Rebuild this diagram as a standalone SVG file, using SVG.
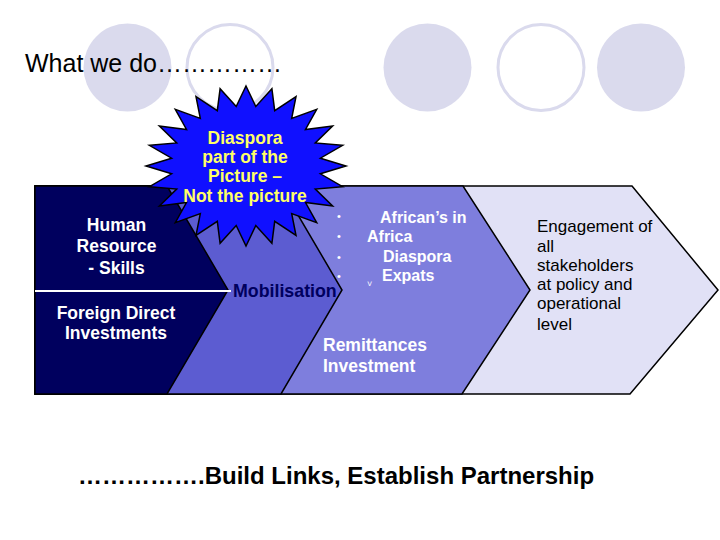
<svg xmlns="http://www.w3.org/2000/svg" width="720" height="540" viewBox="0 0 720 540">
<defs>
<style>
.dot{fill:#dadaed}
.ring{fill:#ffffff;stroke:#dadaed;stroke-width:3}
.shape{stroke:#000000;stroke-width:1.5;stroke-linejoin:miter}
.t{font-family:"Liberation Sans",Arial,sans-serif}
.wb{fill:#ffffff;font-weight:bold;font-size:17.5px}
.wb16{fill:#ffffff;font-weight:bold;font-size:16px}
.blk{fill:#000000;font-size:17px}
.yel{fill:#ffff66;font-weight:bold;font-size:17.5px}
</style>
</defs>
<rect width="720" height="540" fill="#ffffff"/>
<g id="decor">
<circle class="dot" cx="127.5" cy="67.5" r="44"/>
<circle class="ring" cx="230" cy="67.5" r="43"/>
<circle class="dot" cx="427.5" cy="67.5" r="44"/>
<circle class="ring" cx="541" cy="67.5" r="43"/>
<circle class="dot" cx="641" cy="67.5" r="44"/>
</g>
<g id="title">
<text class="t" x="25" y="72" font-size="25" fill="#000000">What we do……………</text>
</g>
<g id="engagement">
<path class="shape" d="M35,186 L632,186 L718,290 L630,394 L35,394 Z" fill="#e1e1f6"/>
<text class="t blk" x="537"><tspan x="537" y="232">Engagement of</tspan><tspan x="537" y="252">all</tspan><tspan x="537" y="271">stakeholders</tspan><tspan x="537" y="290">at policy and</tspan><tspan x="537" y="309">operational</tspan><tspan x="537" y="330">level</tspan></text>
</g>
<g id="remittances">
<path class="shape" d="M35,186 L463,186 L530,290 L462,394 L35,394 Z" fill="#7e7edd"/>
<g class="t" fill="#ffffff" font-size="11">
<text x="337" y="220">•</text>
<text x="337" y="240">•</text>
<text x="337" y="261">•</text>
<text x="337" y="280">•</text>
</g>
<text class="t wb16" x="380" y="223">African’s in</text>
<text class="t wb16" x="367" y="242">Africa</text>
<text class="t wb16" x="383" y="262">Diaspora</text>
<text class="t wb16" x="382" y="281">Expats</text>
<text class="t" x="367" y="287" font-size="9" fill="#ffffff">˅</text>
<text class="t wb"><tspan x="323" y="351">Remittances</tspan><tspan x="323" y="372">Investment</tspan></text>
</g>
<g id="mobilisation">
<path class="shape" d="M35,186 L281,186 L342,290 L281,394 L35,394 Z" fill="#5c5cd1"/>
</g>
<g id="skills">
<path class="shape" d="M35,186 L167,186 L228,290 L167,394 L35,394 Z" fill="#00005e"/>
<line x1="35" y1="291" x2="231" y2="291" stroke="#ffffff" stroke-width="2"/>
<text class="t wb" text-anchor="middle"><tspan x="116.5" y="231">Human</tspan><tspan x="116.5" y="252">Resource</tspan><tspan x="116.5" y="274">- Skills</tspan></text>
<text class="t wb" text-anchor="middle"><tspan x="116" y="319">Foreign Direct</tspan><tspan x="116" y="339">Investments</tspan></text>
</g>
<g id="mobilisation-label">
<text class="t" x="233" y="297" font-size="17.8" font-weight="bold" fill="#00005e">Mobilisation</text>
</g>
<g id="star">
<polygon fill="#1010ff" stroke="#000000" stroke-width="1.5" stroke-linejoin="miter" points="246,86 255.8,106.5 271.9,88.7 274.7,110.6 296,96.7 291.7,118.4 316.7,109.4 305.5,129.5 332.6,126 315.3,143 342.6,145.3 320.4,158.2 346,166 320.4,173.8 342.6,186.7 315.3,189 332.6,206 305.5,202.5 316.7,222.6 291.7,213.6 296,235.3 274.7,221.4 271.9,243.3 255.8,225.5 246,246 236.2,225.5 220.1,243.3 217.3,221.4 196,235.3 200.3,213.6 175.3,222.6 186.5,202.5 159.4,206 176.7,189 149.4,186.7 171.6,173.8 146,166 171.6,158.2 149.4,145.3 176.7,143 159.4,126 186.5,129.5 175.3,109.4 200.3,118.4 196,96.7 217.3,110.6 220.1,88.7 236.2,106.5"/>
<text class="t yel" text-anchor="middle"><tspan x="245" y="144">Diaspora</tspan><tspan x="245" y="163">part of the</tspan><tspan x="245" y="182">Picture –</tspan><tspan x="245" y="202">Not the picture</tspan></text>
</g>
<g id="footer">
<text class="t" x="78" y="484" font-size="24" font-weight="bold" fill="#000000">…………….Build Links, Establish Partnership</text>
</g>
</svg>
